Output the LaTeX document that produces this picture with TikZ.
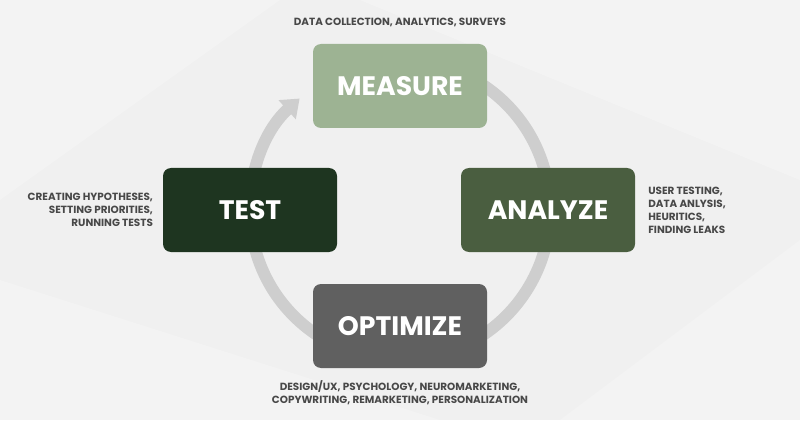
\documentclass[tikz,border=0pt]{standalone}
\usepackage{fontspec}
\setmainfont{Poppins}
\usetikzlibrary{arrows.meta,positioning}
\definecolor{bggray}{RGB}{240,240,240}
\definecolor{ringgray}{RGB}{206,206,206}
\definecolor{notegray}{RGB}{72,72,72}
\definecolor{measurecol}{RGB}{157,179,147}
\definecolor{testcol}{RGB}{30,53,32}
\definecolor{analyzecol}{RGB}{74,94,64}
\definecolor{optimizecol}{RGB}{96,96,96}

\begin{document}
\begin{tikzpicture}[stage/.style={rectangle, rounded corners=0.2cm, minimum width=4.35cm, minimum height=2.1cm, text=white, font=\bfseries\fontsize{19}{19}\selectfont},
	note/.style={text=notegray, font=\bfseries\fontsize{7.4}{9.3}\selectfont, inner sep=0pt}]
			% background
			\fill[bggray] (0,0) rectangle (20,10.5);
			\fill[white, opacity=0.25] (9,10.5) -- (20,10.5) -- (20,6) -- cycle;
			\fill[white, opacity=0.2] (0,10.5) -- (7,10.5) -- (0,5.5) -- cycle;
			\fill[white, opacity=0.2] (0,0) -- (11,0) -- (0,3.5) -- cycle;
			\fill[white, opacity=0.2] (14,0) -- (20,0) -- (20,4.5) -- cycle;
			\useasboundingbox (0,0) rectangle (20,10.5);
			% cycle ring
			\coordinate (hub) at (10,5.25);
			\draw[line width=0.3cm, ringgray, -{Triangle[length=0.42cm,width=0.62cm]}] ([shift={(100:3.75)}]hub) arc (100:-228:3.75);
			% stages
			\node[stage, fill=measurecol] (measure) at (10,8.35) {MEASURE};
			\node[stage, fill=testcol] (test) at (6.25,5.25) {TEST};
			\node[stage, fill=analyzecol] (analyze) at (13.7,5.25) {ANALYZE};
			\node[stage, fill=optimizecol] (optimize) at (10,2.35) {OPTIMIZE};
			% notes
			\node[note, align=center] (measurenote) at (10,9.95) {DATA COLLECTION, ANALYTICS, SURVEYS};
			\node[note, align=right, anchor=east] (testnote) at (3.83,5.25) {CREATING HYPOTHESES,\\SETTING PRIORITIES,\\RUNNING TESTS};
			\node[note, align=left, anchor=west] (analyzenote) at (16.2,5.25) {USER TESTING,\\DATA ANLYSIS,\\HEURITICS,\\FINDING LEAKS};
			\node[note, align=center] (optimizenote) at (10,0.675) {DESIGN/UX, PSYCHOLOGY, NEUROMARKETING,\\COPYWRITING, REMARKETING, PERSONALIZATION};
		\end{tikzpicture}
\end{document}
